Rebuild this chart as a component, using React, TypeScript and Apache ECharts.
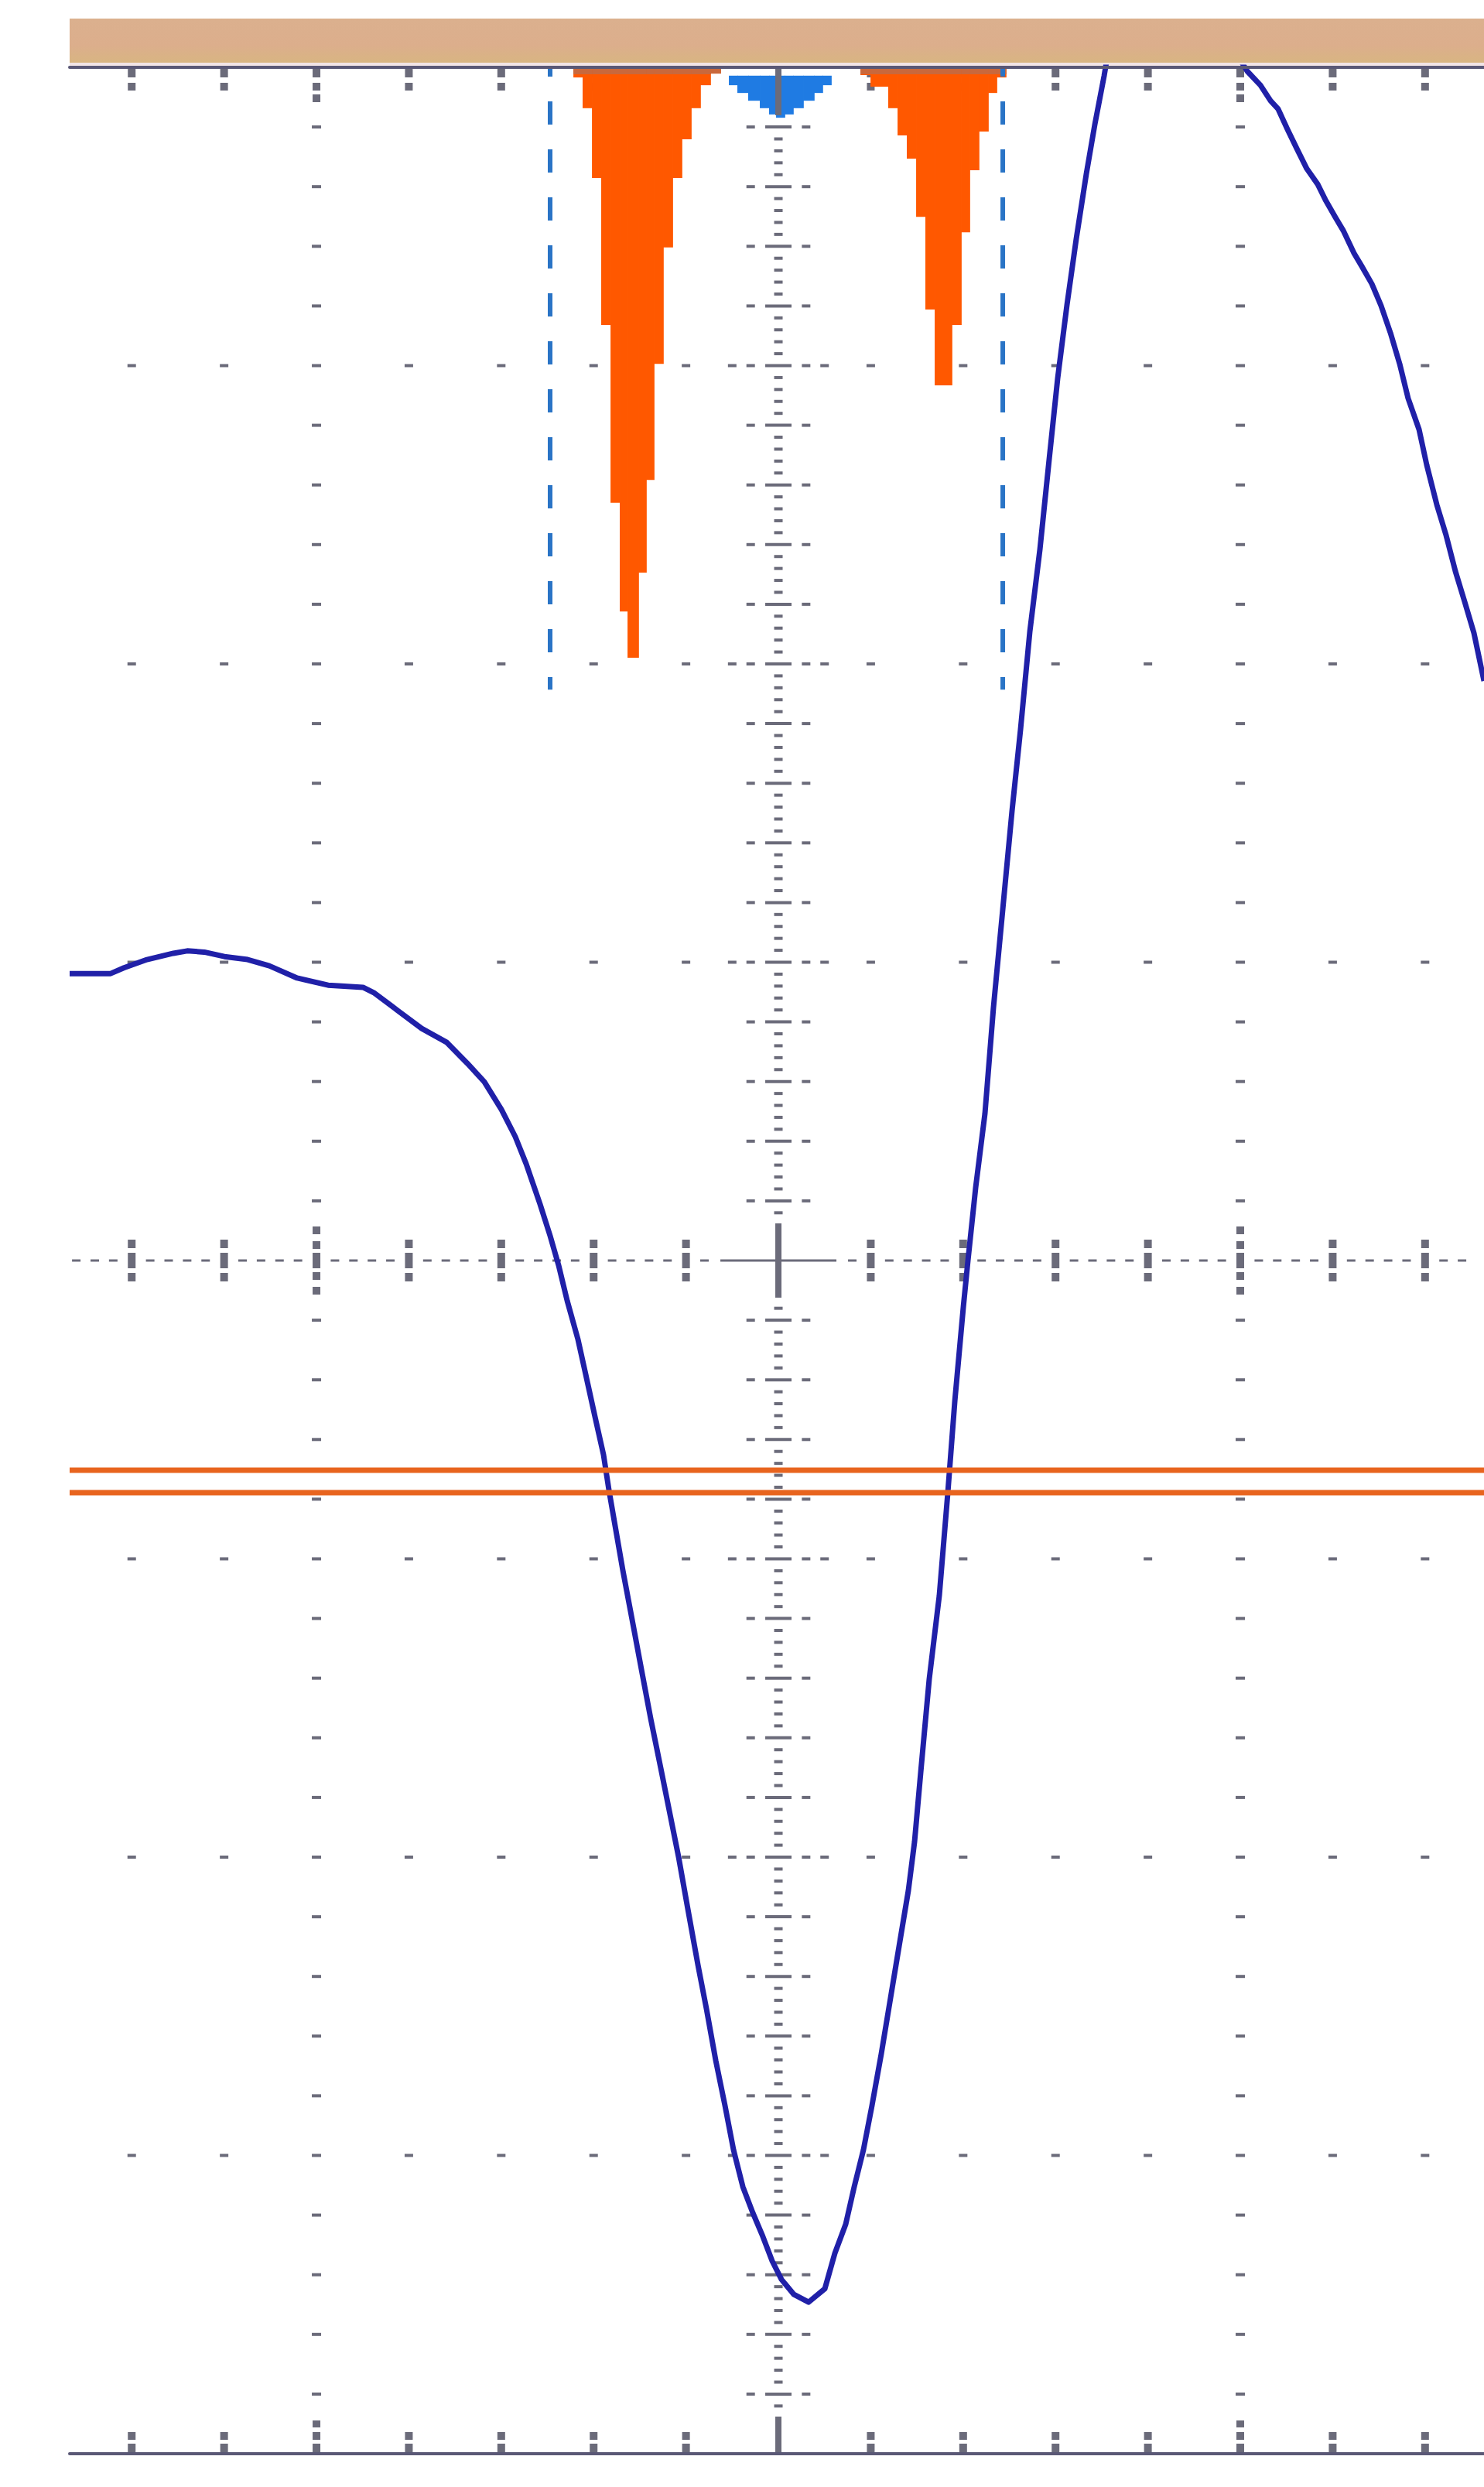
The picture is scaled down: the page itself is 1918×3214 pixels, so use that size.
import React, { useEffect, useRef } from "react";
import * as echarts from "echarts";

// Screen extent in divisions: x counts minor divisions from the trigger point, y counts vertical divisions
const X_MIN = -7.672;
const X_MAX = 7.638;
const Y_MIN = -4;
const Y_MAX = 4;

// Graticule layout
const minorCols = [-7, -6, -5, -4, -3, -2, -1, 0, 1, 2, 3, 4, 5, 6, 7];
const majorCols = [-5, 0, 5];
const gridRows = [-3, -2, -1, 1, 2, 3];
const rowExtraCols = [-0.5, 0.5];
const crossbarSideCols = [-0.3, 0.3];

// Acquired waveform
const traceTime = [
  -7.672, -7.228, -7.085, -6.834, -6.549, -6.399, -6.214, -5.997, -5.745, -5.511,
  -5.209, -4.874, -4.497, -4.38, -4.121, -3.861, -3.593, -3.367, -3.183, -2.998,
  -2.848, -2.73, -2.58, -2.471, -2.379, -2.286, -2.169, -2.077, -1.985, -1.893,
  -1.834, -1.767, -1.683, -1.591, -1.474, -1.382, -1.273, -1.181, -1.08, -0.98,
  -0.871, -0.779, -0.678, -0.578, -0.486, -0.385, -0.276, -0.176, -0.067, 0.034,
  0.168, 0.327, 0.503, 0.611, 0.729, 0.821, 0.921, 1.013, 1.114, 1.214,
  1.307, 1.407, 1.474, 1.541, 1.633, 1.742, 1.834, 1.91, 2.002, 2.052,
  2.136, 2.236, 2.328, 2.429, 2.529, 2.621, 2.722, 2.831, 2.931, 3.023,
  3.124, 3.224, 3.333, 3.425, 3.526, 3.635, 3.76, 4.054, 4.389, 4.682,
  4.807, 5.075, 5.218, 5.327, 5.41, 5.511, 5.611, 5.72, 5.838, 5.921,
  6.03, 6.114, 6.231, 6.315, 6.424, 6.524, 6.625, 6.725, 6.817, 6.935,
  7.018, 7.127, 7.228, 7.328, 7.429, 7.529, 7.638,
];
const traceLevel = [
  0.962, 0.962, 0.981, 1.009, 1.03, 1.038, 1.034, 1.019, 1.009, 0.988,
  0.947, 0.923, 0.916, 0.898, 0.838, 0.778, 0.732, 0.661, 0.599, 0.506,
  0.415, 0.324, 0.189, 0.083, -0.016, -0.135, -0.265, -0.394, -0.524, -0.651,
  -0.77, -0.89, -1.04, -1.191, -1.385, -1.536, -1.702, -1.844, -2.0, -2.174,
  -2.361, -2.508, -2.682, -2.833, -2.981, -3.105, -3.193, -3.266, -3.354, -3.416,
  -3.466, -3.492, -3.447, -3.328, -3.23, -3.105, -2.981, -2.833, -2.659, -2.472,
  -2.298, -2.112, -1.948, -1.715, -1.403, -1.123, -0.778, -0.47, -0.156, 0.0,
  0.246, 0.493, 0.848, 1.178, 1.507, 1.78, 2.109, 2.384, 2.685, 2.957,
  3.204, 3.424, 3.642, 3.808, 3.971, 4.174, 4.33, 4.563, 4.615, 4.459,
  4.122, 3.987, 3.94, 3.888, 3.86, 3.792, 3.728, 3.66, 3.608, 3.556,
  3.497, 3.453, 3.377, 3.333, 3.274, 3.201, 3.11, 3.006, 2.89, 2.786,
  2.667, 2.534, 2.431, 2.311, 2.208, 2.104, 1.943,
];

// Jitter histogram bins hanging from the top edge: [start, end, lower edge]
const leftBurstBins = [
  [-2.219, -2.119, 3.966], [-2.119, -2.018, 3.863], [-2.018, -1.918, 3.629],
  [-1.918, -1.817, 3.136], [-1.817, -1.717, 2.54], [-1.717, -1.633, 2.176],
  [-1.633, -1.516, 2.021], [-1.516, -1.432, 2.306], [-1.432, -1.348, 2.617],
  [-1.348, -1.248, 3.006], [-1.248, -1.147, 3.396], [-1.147, -1.047, 3.629],
  [-1.047, -0.946, 3.759], [-0.946, -0.846, 3.863], [-0.846, -0.737, 3.94],
  [-0.737, -0.628, 3.979],
];
const rightBurstBins = [
  [0.888, 0.997, 3.974], [0.997, 1.189, 3.935], [1.189, 1.29, 3.863],
  [1.29, 1.39, 3.772], [1.39, 1.491, 3.694], [1.491, 1.591, 3.499],
  [1.591, 1.692, 3.188], [1.692, 1.876, 2.934], [1.876, 1.977, 3.136],
  [1.977, 2.069, 3.447], [2.069, 2.169, 3.655], [2.169, 2.27, 3.785],
  [2.27, 2.362, 3.914], [2.362, 2.462, 3.966],
];

// Trigger position marker: [start, end, lower edge], upper edge at markerTop
const markerTop = 3.972;
const markerBins = [
  [-0.536, -0.444, 3.94], [-0.444, -0.327, 3.914], [-0.327, -0.201, 3.888],
  [-0.201, -0.101, 3.863], [-0.101, -0.025, 3.842], [-0.025, 0.067, 3.831],
  [0.067, 0.159, 3.842], [0.159, 0.268, 3.863], [0.268, 0.385, 3.888],
  [0.385, 0.477, 3.914], [0.477, 0.57, 3.94],
];

// Time cursors and threshold levels
const cursorTimes = [-2.471, 2.429];
const cursorBottom = 1.914;
const thresholdLevels = [-0.703, -0.778];

const GRID_GRAY = "#6b6b7a";

function renderGraticule(_params: any, api: any) {
  const kids: any[] = [];
  const box = (x: number, y: number, w: number, h: number) =>
    kids.push({ type: "rect", shape: { x, y, width: w, height: h }, style: { fill: GRID_GRAY } });
  const hDash = (cx: number, cy: number, w: number) => box(cx - w / 2, cy - 2, w, 4);
  const vSeg = (cx: number, cy: number, a: number, b: number, w: number) => box(cx - w / 2, cy + a, w, b - a);

  const top = api.coord([0, Y_MAX])[1];
  const bottom = api.coord([0, Y_MIN])[1];
  const [cx0, cy0] = api.coord([0, 0]);

  minorCols.forEach((k) => {
    const cx = api.coord([k, 0])[0];
    const major = majorCols.includes(k);
    if (k === 0) {
      vSeg(cx, top, 0, 62, 8);
      vSeg(cx, bottom, -48, 0, 8);
      return;
    }
    vSeg(cx, top, 1, 13, 10);
    vSeg(cx, top, 20, 30, 10);
    vSeg(cx, bottom, -13, 0, 10);
    vSeg(cx, bottom, -28, -18, 10);
    if (major) {
      vSeg(cx, top, 35, 45, 10);
      vSeg(cx, bottom, -43, -34, 10);
    }
    const segs = major
      ? [[-44, -34], [-25, -15], [-10, 10], [15, 25], [34, 44]]
      : [[-27, -16], [-10, 10], [16, 27]];
    segs.forEach(([a, b]) => vSeg(cx, cy0, a, b, 10));
  });

  // Fifth-division marks along the outer major columns
  majorCols.filter((k) => k !== 0).forEach((k) => {
    for (let j = -19; j <= 19; j++) {
      if (j === 0) continue;
      const [cx, cy] = api.coord([k, j / 5]);
      hDash(cx, cy, 12);
    }
  });

  // Dotted horizontal division rows
  gridRows.forEach((r) => {
    minorCols.forEach((k) => {
      if (majorCols.includes(k)) return;
      const [cx, cy] = api.coord([k, r]);
      hDash(cx, cy, 11);
    });
    rowExtraCols.forEach((x) => {
      const [cx, cy] = api.coord([x, r]);
      hDash(cx, cy, 11);
    });
  });

  // Centre column: 1/25 division ruler with crossbars every fifth
  for (let i = -96; i <= 95; i++) {
    if (Math.abs(i) <= 3) continue;
    const [cx, cy] = api.coord([0, i / 25]);
    if (i % 5 === 0) {
      hDash(cx, cy, 34);
      crossbarSideCols.forEach((x) => hDash(api.coord([x, 0])[0], cy, 11));
    } else {
      hDash(cx, cy, 11);
    }
  }

  // Centre row: dashed line with fifth-division dashes
  for (let k = -8; k <= 7; k++) {
    for (let s = 1; s <= 4; s++) {
      const x = k + s / 5;
      if (x < X_MIN + 0.05 || x > X_MAX - 0.05 || Math.abs(x) < 0.7) continue;
      const [cx, cy] = api.coord([x, 0]);
      box(cx - 5.5, cy - 1.5, 11, 3);
    }
  }

  // Centre cross
  box(cx0 - 75, cy0 - 1.5, 150, 3);
  vSeg(cx0, cy0, -48, 48, 8);

  return { type: "group", children: kids };
}

function burstRenderer(fill: string, edge: string | null, topOf: (api: any) => number) {
  return (_params: any, api: any) => {
    const a = api.coord([api.value(0), topOf(api)]);
    const b = api.coord([api.value(1), api.value(2)]);
    const w = b[0] - a[0] + 0.8;
    const h = b[1] - a[1];
    const children: any[] = [
      { type: "rect", shape: { x: a[0], y: a[1], width: w, height: h }, style: { fill } },
    ];
    if (edge) {
      children.push({
        type: "rect",
        shape: { x: a[0], y: a[1], width: w, height: Math.min(9, h) },
        style: { fill: edge },
      });
    }
    return { type: "group", children };
  };
}

export default function App() {
  const ref = useRef<HTMLDivElement>(null);

  useEffect(() => {
    if (!ref.current) return;
    const chart = echarts.init(ref.current, null, { renderer: "svg" });

    const tracePoints = traceTime.map((t, i) => [t, traceLevel[i]]);
    const axisBase = {
      type: "value" as const,
      min: X_MIN,
      max: X_MAX,
      z: 10,
      axisLine: { show: true, onZero: false, lineStyle: { color: "#5a5876", width: 4 } },
      axisTick: { show: false },
      axisLabel: { show: false },
      splitLine: { show: false },
    };

    chart.setOption({
      animation: false,
      backgroundColor: "#ffffff",
      grid: { left: 90, top: 87, right: 0, bottom: 43, containLabel: false },
      xAxis: [
        { ...axisBase, position: "bottom" },
        { ...axisBase, position: "top" },
      ],
      yAxis: {
        type: "value",
        min: Y_MIN,
        max: Y_MAX,
        show: false,
        splitLine: { show: false },
      },
      graphic: [
        {
          type: "rect",
          shape: { x: 90, y: 24, width: 1828, height: 57 },
          style: {
            fill: new echarts.graphic.LinearGradient(0, 0, 0, 1, [
              { offset: 0, color: "#dbb08e" },
              { offset: 0.6, color: "#dcae8c" },
              { offset: 1, color: "#d8b582" },
            ]),
          },
          silent: true,
        },
        {
          type: "rect",
          shape: { x: 90, y: 81, width: 1828, height: 4 },
          style: { fill: "#f2e4e6" },
          silent: true,
        },
      ],
      series: [
        {
          name: "trigger marker",
          type: "custom",
          z: 1,
          silent: true,
          data: markerBins,
          renderItem: burstRenderer("#1f7be3", null, () => markerTop),
        },
        {
          name: "graticule",
          type: "custom",
          z: 2,
          silent: true,
          data: [[0]],
          renderItem: renderGraticule,
        },
        {
          name: "left burst",
          type: "custom",
          z: 3,
          silent: true,
          data: leftBurstBins,
          renderItem: burstRenderer("#ff5800", "#c9683c", () => Y_MAX),
        },
        {
          name: "right burst",
          type: "custom",
          z: 3,
          silent: true,
          data: rightBurstBins,
          renderItem: burstRenderer("#ff5800", "#c9683c", () => Y_MAX),
        },
        ...cursorTimes.map((t) => ({
          name: "cursor",
          type: "line",
          z: 4,
          silent: true,
          symbol: "none",
          data: [
            [t, Y_MAX],
            [t, cursorBottom],
          ],
          lineStyle: { color: "#2a74c6", width: 6, type: [30, 32], dashOffset: 18 },
        })),
        {
          name: "waveform",
          type: "line",
          z: 5,
          silent: true,
          symbol: "none",
          clip: true,
          data: tracePoints,
          lineStyle: { color: "#2020a8", width: 7, join: "round" },
        },
        ...thresholdLevels.map((v) => ({
          name: "threshold",
          type: "line",
          z: 6,
          silent: true,
          symbol: "none",
          data: [
            [X_MIN, v],
            [X_MAX, v],
          ],
          lineStyle: { color: "#e8641e", width: 7 },
        })),
      ],
    });

    return () => chart.dispose();
  }, []);

  return (
    <div
      ref={ref}
      style={{ position: "absolute", left: 0, top: 0, width: 1918, height: 3214, background: "#ffffff" }}
    />
  );
}
